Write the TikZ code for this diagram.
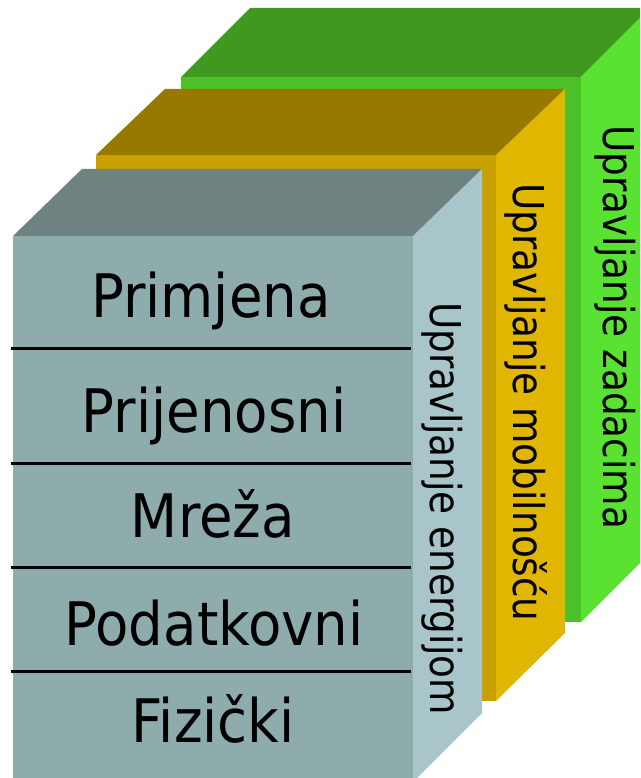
\documentclass[tikz,border=0pt]{standalone}
\usepackage{fontspec}
\newfontfamily\hfont{DejaVu Sans}[FakeStretch=0.91]
\newfontfamily\vfont{DejaVu Sans}[FakeStretch=0.88]
\definecolor{gTop}{RGB}{64,152,32}
\definecolor{gFront}{RGB}{76,192,40}
\definecolor{gSide}{RGB}{90,226,50}
\definecolor{oTop}{RGB}{150,122,0}
\definecolor{oFront}{RGB}{200,160,0}
\definecolor{oSide}{RGB}{225,182,0}
\definecolor{sTop}{RGB}{110,130,130}
\definecolor{sFront}{RGB}{142,172,172}
\definecolor{sSide}{RGB}{168,198,202}
\tikzset{
  layertext/.style={font=\hfont\fontsize{60}{60}\selectfont, anchor=base, inner sep=0pt, text=black},
  sidetext/.style={font=\vfont\fontsize{42.5}{42.5}\selectfont, rotate=-90, anchor=base west, inner sep=0pt, text=black},
  sep/.style={line width=3pt, black},
}
\begin{document}
\begin{tikzpicture}[x=1pt,y=-1pt]
\useasboundingbox (0,0) rectangle (640,778);
\clip (0,0) rectangle (640,778);
% green box
\fill[gTop] (181,77) -- (250,8) -- (650,8) -- (581,77) -- cycle;
\fill[gFront] (181,77) rectangle (581,622);
\fill[gSide] (581,77) -- (650,8) -- (650,553) -- (581,622) -- cycle;
% orange box
\fill[oTop] (96,155) -- (165,89) -- (565,89) -- (496,155) -- cycle;
\fill[oFront] (96,155) rectangle (496,701);
\fill[oSide] (496,155) -- (565,89) -- (565,633) -- (496,701) -- cycle;
% gray box
\fill[sTop] (13,236) -- (82,169) -- (482,169) -- (413,236) -- cycle;
\fill[sFront] (13,236) rectangle (413,790);
\fill[sSide] (413,236) -- (482,169) -- (482,713) -- (413,782) -- cycle;
% separators
\coordinate (l1a) at (11,348); \coordinate (l1b) at (411,348);
\coordinate (l2a) at (11,463); \coordinate (l2b) at (411,463);
\coordinate (l3a) at (11,567); \coordinate (l3b) at (411,567);
\coordinate (l4a) at (11,671); \coordinate (l4b) at (411,671);
\draw[sep] (l1a) -- (l1b);
\draw[sep] (l2a) -- (l2b);
\draw[sep] (l3a) -- (l3b);
\draw[sep] (l4a) -- (l4b);
% layer texts
\node[layertext] (primjena) at (211,317) {Primjena};
\node[layertext] (prijenosni) at (214,432) {Prijenosni};
\node[layertext] (mreza) at (213,537) {Mreža};
\node[layertext] (podatkovni) at (214,645) {Podatkovni};
\node[layertext] (fizicki) at (213,742) {Fizički};
% side texts
\node[sidetext] (energija) at (430,302) {Upravljanje energijom};
\node[sidetext] (mobilnost) at (513,183) {Upravljanje mobilnošću};
\node[sidetext] (zadaci) at (603,125) {Upravljanje zadacima};
\end{tikzpicture}
\end{document}
